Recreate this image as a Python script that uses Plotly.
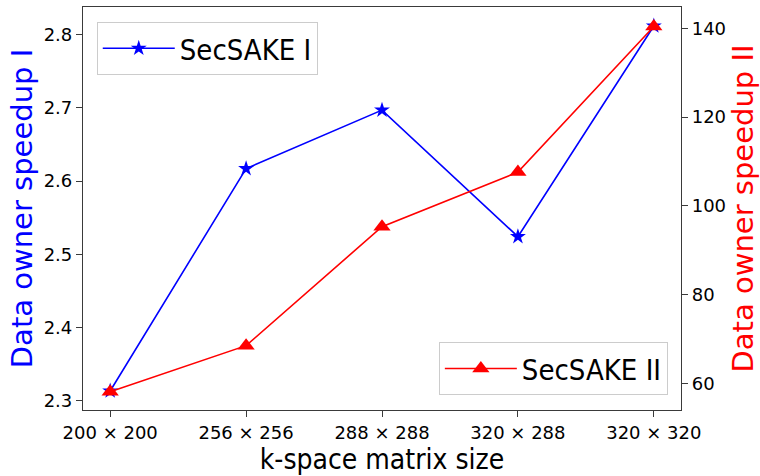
import plotly.graph_objects as go

# Matrix sizes on the x axis
sizes = ["200 × 200", "256 × 256", "288 × 288", "320 × 288", "320 × 320"]

# Data owner speedup for each scheme
speedup_i = [2.313, 2.617, 2.697, 2.524, 2.812]
speedup_ii = [58.1, 68.5, 95.3, 107.6, 140.4]

left_ticks = [2.3, 2.4, 2.5, 2.6, 2.7, 2.8]
right_ticks = [60, 80, 100, 120, 140]

BLUE = "#0000ff"
RED = "#ff0000"
SPINE = "#3a3a3a"
TICK_FONT = dict(family="DejaVu Sans", size=18, color="black")

fig = go.Figure()

fig.add_trace(go.Scatter(
    x=sizes, y=speedup_i, name="SecSAKE I", mode="lines+markers",
    line=dict(color=BLUE, width=1.6),
    marker=dict(symbol="star", size=12, color=BLUE),
    yaxis="y", legend="legend",
))
fig.add_trace(go.Scatter(
    x=sizes, y=speedup_ii, name="SecSAKE II", mode="lines+markers",
    line=dict(color=RED, width=1.6),
    marker=dict(symbol="triangle-up", size=15, color=RED),
    yaxis="y2", legend="legend2",
))

legend_style = dict(
    bgcolor="rgba(255,255,255,0.8)",
    bordercolor="#cccccc",
    borderwidth=1,
    font=dict(family="DejaVu Sans Condensed", size=29, color="black"),
    itemwidth=72,
)

fig.update_layout(
    width=760, height=476,
    margin=dict(l=83, r=77, t=6, b=66),
    paper_bgcolor="white", plot_bgcolor="white",
    showlegend=True,
    xaxis=dict(
        type="category", range=[-0.2, 4.2],
        showgrid=False, zeroline=False,
        showline=True, linecolor=SPINE, linewidth=1.2, mirror=True,
        ticks="outside", ticklen=6, tickcolor=SPINE, tickwidth=1.2,
        tickfont=TICK_FONT,
        title=dict(text="k-space matrix size",
                   font=dict(family="DejaVu Sans Condensed", size=28, color="black"),
                   standoff=4),
    ),
    yaxis=dict(
        range=[2.287, 2.838],
        tickvals=left_ticks, tickformat=".1f",
        showgrid=False, zeroline=False,
        showline=True, linecolor=SPINE, linewidth=1.2,
        ticks="outside", ticklen=6, tickcolor=SPINE, tickwidth=1.2,
        tickfont=TICK_FONT,
        title=dict(text="Data owner speedup I",
                   font=dict(family="DejaVu Sans", size=29, color=BLUE),
                   standoff=2),
    ),
    yaxis2=dict(
        overlaying="y", side="right",
        range=[54.0, 144.8],
        tickvals=right_ticks,
        showgrid=False, zeroline=False,
        showline=True, linecolor=SPINE, linewidth=1.2,
        ticks="outside", ticklen=6, tickcolor=SPINE, tickwidth=1.2,
        tickfont=TICK_FONT,
        title=dict(text="Data owner speedup II",
                   font=dict(family="DejaVu Sans", size=29, color=RED),
                   standoff=8),
    ),
    legend=dict(x=0.023, y=0.963, xanchor="left", yanchor="top", **legend_style),
    legend2=dict(x=0.978, y=0.037, xanchor="right", yanchor="bottom", **legend_style),
)

fig.write_html("out.html")
